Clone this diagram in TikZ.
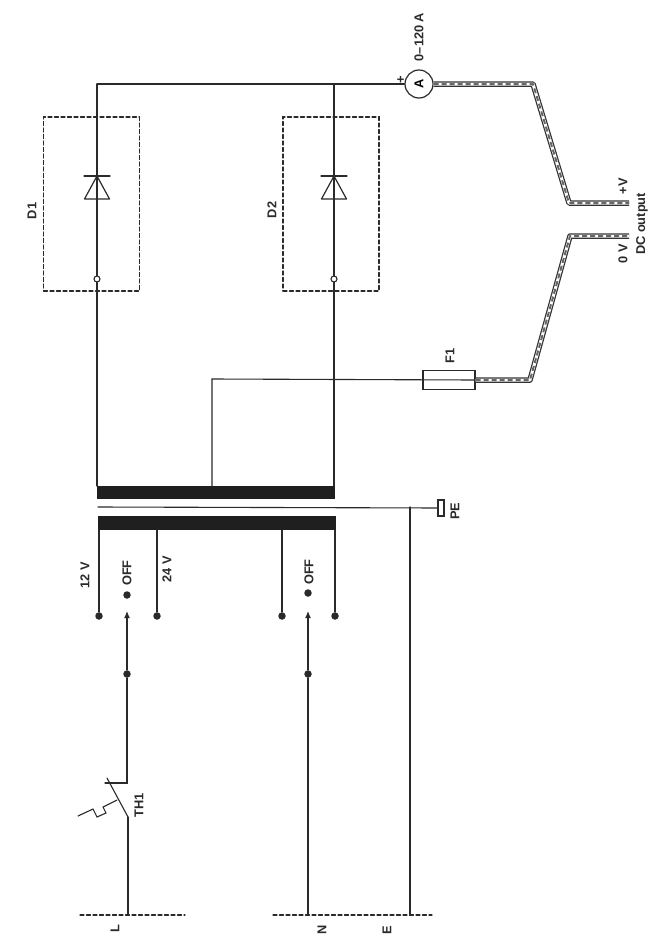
\documentclass[tikz,border=0pt]{standalone}
\usepackage{fontspec}
\setmainfont{Liberation Sans}
\usetikzlibrary{arrows.meta}
\definecolor{inkline}{HTML}{2a2a2a}
\definecolor{barfill}{HTML}{1f1f1f}
\tikzset{
  wire/.style={draw=inkline, line width=1.1pt},
  lab/.style={rotate=90, inner sep=0pt, text=inkline, font=\fontsize{12.8}{14}\selectfont\bfseries},
  termdot/.style={circle, fill=inkline, inner sep=0pt, minimum size=7.5pt},
  ringdot/.style={circle, draw=inkline, line width=1.1pt, fill=white, inner sep=0pt, minimum size=6pt},
  bar/.style={rectangle, fill=barfill, inner sep=0pt, minimum width=238pt, minimum height=13.5pt},
  dashbox/.style={rectangle, draw=inkline, line width=1.1pt, dash pattern=on 4pt off 2.5pt, inner sep=0pt},
  feeder/.style={draw=inkline, line width=1.1pt, dash pattern=on 4pt off 2.5pt},
  cable/.style={draw=black!80, line width=5.5pt, line join=round, line cap=butt,
    postaction={draw=white, line width=3pt},
    postaction={draw=black!60, line width=2pt, dash pattern=on 5pt off 3pt}},
}
\begin{document}
\begin{tikzpicture}[x=1pt, y=-1pt, line cap=round]
  \useasboundingbox (0,0) rectangle (654,940);

  % Transformer
  \node[bar] (secbar) at (216,492.5) {};
  \node[bar] (pribar) at (216.5,523) {};
  \coordinate (screen) at (98,507);
  \node[rectangle, draw=inkline, line width=1.1pt, inner sep=0pt, minimum width=6pt, minimum height=16pt] (pebar) at (441,508) {};
  \draw[wire] (screen) -- (pebar);
  \node[lab] (pe) at (455,511) {PE};

  % Rails and rectifier legs
  \coordinate (railA) at (97,84);
  \coordinate (railB) at (334,84);
  \coordinate (secA) at (97,486);
  \coordinate (secB) at (334,486);
  \node[circle, draw=inkline, line width=1.2pt, inner sep=0pt, minimum size=28pt, rotate=90, font=\fontsize{12.8}{14}\selectfont\bfseries] (meter) at (419,84) {A};
  \draw[wire] (railA) -- (meter);
  \draw[wire] (railA) -- (secA);
  \draw[wire] (railB) -- (secB);
  \node[lab] (plus) at (401,80) {+};
  \node[lab] (range) at (419,37) {0--120 A};

  % Diodes
  \foreach \leg/\xleg/\xbox/\name in {A/97/91.5/D1, B/334/331/D2} {
    \node[dashbox, minimum width=96pt, minimum height=174pt] (box\leg) at (\xbox,204) {};
    \coordinate (apex\leg) at (\xleg,176);
    \coordinate (baseL\leg) at (\xleg-12.5,199);
    \coordinate (baseR\leg) at (\xleg+12.5,199);
    \coordinate (barL\leg) at (\xleg-13,176);
    \coordinate (barR\leg) at (\xleg+13,176);
    \draw[draw=inkline, line width=1.2pt, line join=round] (apex\leg) -- (baseL\leg) -- (baseR\leg) -- cycle;
    \draw[draw=inkline, line width=1.2pt] (barL\leg) -- (barR\leg);
    \node[ringdot] (ring\leg) at (\xleg,279) {};
  }
  \node[lab] (d1) at (32,211) {D1};
  \node[lab] (d2) at (272,210) {D2};

  % Centre tap and fuse
  \coordinate (tapbot) at (212,486);
  \coordinate (taptop) at (212,379);
  \node[rectangle, draw=inkline, line width=1.1pt, inner sep=0pt, minimum width=52pt, minimum height=19pt] (fuse) at (449,380) {};
  \draw[wire] (tapbot) -- (taptop) -- (fuse.east);
  \node[lab] (f1) at (450,356) {F1};

  % Output cables
  \coordinate (posA) at (533,84);
  \coordinate (posB) at (569,203);
  \coordinate (posC) at (629,203);
  \coordinate (negA) at (530,380);
  \coordinate (negB) at (570,236);
  \coordinate (negC) at (629,236);
  \draw[cable] (meter) -- (posA) -- (posB) -- (posC);
  \draw[cable] (fuse) -- (negA) -- (negB) -- (negC);
  \node[lab] (vplus) at (623,186) {+V};
  \node[lab] (vzero) at (623,254) {0 V};
  \node[lab] (dcout) at (642,224) {DC output};

  % Primary tappings
  \node[termdot] (t12) at (99,616) {};
  \node[termdot] (t24) at (157,616) {};
  \node[termdot] (tn1) at (282,616) {};
  \node[termdot] (tn2) at (335,616) {};
  \coordinate (p12) at (99,530);
  \coordinate (p24) at (157,530);
  \coordinate (pn1) at (282,530);
  \coordinate (pn2) at (335,530);
  \draw[wire] (p12) -- (t12);
  \draw[wire] (p24) -- (t24);
  \draw[wire] (pn1) -- (tn1);
  \draw[wire] (pn2) -- (tn2);
  \node[lab] (v12) at (85,575) {12 V};
  \node[lab] (v24) at (167,569) {24 V};

  % Selector switches
  \node[termdot] (offL) at (127,595) {};
  \node[termdot] (offN) at (308,593) {};
  \node[lab] (offLl) at (127,573) {OFF};
  \node[lab] (offNl) at (309,572) {OFF};
  \node[termdot] (pivL) at (127,674) {};
  \node[termdot] (pivN) at (308,674) {};
  \coordinate (tipL) at (127,611);
  \coordinate (tipN) at (308,611);
  \draw[wire, -{Latex[length=7pt,width=6pt]}] (pivL) -- (tipL);
  \draw[wire, -{Latex[length=7pt,width=6pt]}] (pivN) -- (tipN);

  % Thermal trip
  \coordinate (thA) at (127,783);
  \coordinate (thB) at (105,783);
  \coordinate (thC) at (107,778);
  \coordinate (thD) at (128,817);
  \coordinate (zig) at (117,800);
  \node[lab] (th1) at (139,805) {TH1};
  \draw[wire] (pivL) -- (thA) -- (thB);
  \draw[wire] (thC) -- (thD);
  \draw[wire] (zig) -- ++(-14,7) -- ++(3,6) -- ++(-9,4) -- ++(-4,-8) -- ++(-15,7);

  % Supply lines
  \coordinate (supL) at (128,915);
  \coordinate (supN) at (308,915);
  \coordinate (supE) at (410,915);
  \coordinate (earth) at (410,507);
  \coordinate (feedLa) at (80,915);
  \coordinate (feedLb) at (185,915);
  \coordinate (feedNa) at (273,915);
  \coordinate (feedNb) at (432,915);
  \draw[wire] (thD) -- (supL);
  \draw[wire] (pivN) -- (supN);
  \draw[wire] (earth) -- (supE);
  \draw[feeder] (feedLa) -- (feedLb);
  \draw[feeder] (feedNa) -- (feedNb);
  \node[lab] (l) at (115,929) {L};
  \node[lab] (n) at (322,930) {N};
  \node[lab] (e) at (387,930) {E};
\end{tikzpicture}
\end{document}
